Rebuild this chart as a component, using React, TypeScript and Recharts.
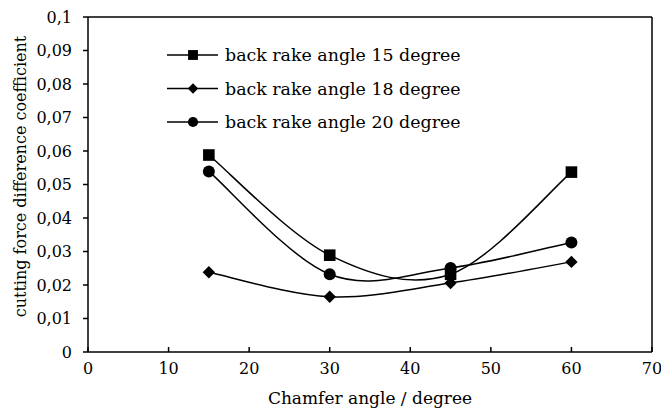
import { CartesianGrid, Legend, Line, LineChart, ReferenceLine, XAxis, YAxis } from "recharts";

const chamferAngles = [15, 30, 45, 60];
const rake15 = [0.0588, 0.0289, 0.0232, 0.0537];
const rake18 = [0.0238, 0.0165, 0.0206, 0.0269];
const rake20 = [0.0539, 0.0232, 0.0251, 0.0327];
const xTicks = [0, 10, 20, 30, 40, 50, 60, 70];
const yTicks = [0, 0.01, 0.02, 0.03, 0.04, 0.05, 0.06, 0.07, 0.08, 0.09, 0.1];
const seriesNames = ["back rake angle 15 degree", "back rake angle 18 degree", "back rake angle 20 degree"];

const data = chamferAngles.map((a, i) => ({ angle: a, r15: rake15[i], r18: rake18[i], r20: rake20[i] }));

const FONT = "'DejaVu Serif', serif";

// excel-style smoothed line (catmull-rom as cubic bezier)
function excelSmooth(context: any) {
  let pts: [number, number][] = [];
  return {
    areaStart() {},
    areaEnd() {},
    lineStart() {
      pts = [];
    },
    point(x: number, y: number) {
      pts.push([+x, +y]);
    },
    lineEnd() {
      if (!pts.length) return;
      context.moveTo(pts[0][0], pts[0][1]);
      for (let i = 0; i < pts.length - 1; i++) {
        const p0 = pts[i - 1] ?? pts[i];
        const p1 = pts[i];
        const p2 = pts[i + 1];
        const p3 = pts[i + 2] ?? p2;
        context.bezierCurveTo(
          p1[0] + (p2[0] - p0[0]) / 6,
          p1[1] + (p2[1] - p0[1]) / 6,
          p2[0] - (p3[0] - p1[0]) / 6,
          p2[1] - (p3[1] - p1[1]) / 6,
          p2[0],
          p2[1]
        );
      }
    },
  };
}

function Marker({ kind, cx, cy, s = 1 }: { kind: string; cx: number; cy: number; s?: number }) {
  if (kind === "square") {
    const h = 5.8 * s;
    return <rect x={cx - h} y={cy - h} width={2 * h} height={2 * h} fill="#000" />;
  }
  if (kind === "diamond") {
    const h = 6.2 * s;
    return <polygon points={`${cx},${cy - h} ${cx + h},${cy} ${cx},${cy + h} ${cx - h},${cy}`} fill="#000" />;
  }
  return <circle cx={cx} cy={cy} r={6 * s} fill="#000" />;
}

const kinds = ["square", "diamond", "circle"];

const dot = (kind: string) => (p: any) =>
  p.cx == null ? <g key={p.key} /> : <Marker key={p.key} kind={kind} cx={p.cx} cy={p.cy} />;

function LegendBox() {
  return (
    <svg width={330} height={100}>
      {seriesNames.map((name, i) => {
        const y = 15 + i * 33.5;
        return (
          <g key={name}>
            <line x1={7} x2={58} y1={y} y2={y} stroke="#000" strokeWidth={1.6} />
            <Marker kind={kinds[i]} cx={33} cy={y} s={0.85} />
            <text x={65} y={y} dy="0.35em" fontFamily={FONT} fontSize={17.4} fill="#000">
              {name}
            </text>
          </g>
        );
      })}
    </svg>
  );
}

const fmt = (v: number) => String(v).replace(".", ",");

export default function App() {
  return (
    <div style={{ position: "absolute", left: 0, top: 0, background: "#fff" }}>
      <LineChart width={661} height={412} data={data} margin={{ top: 17, right: 9, bottom: 0, left: 0 }}>
        <CartesianGrid horizontal={false} vertical={false} />
        <XAxis
          dataKey="angle"
          type="number"
          domain={[0, 70]}
          ticks={xTicks}
          height={60}
          stroke="#000"
          strokeWidth={1.5}
          tickSize={-5}
          tickMargin={16}
          tick={{ fill: "#000", fontSize: 16, fontFamily: FONT }}
          label={{ value: "Chamfer angle / degree", position: "insideBottom", offset: 8, fill: "#000", fontSize: 17, fontFamily: FONT }}
        />
        <YAxis
          type="number"
          domain={[0, 0.1]}
          ticks={yTicks}
          width={88}
          stroke="#000"
          strokeWidth={1.5}
          tickSize={5}
          tickMargin={11}
          tickFormatter={fmt}
          tick={{ fill: "#000", fontSize: 16, fontFamily: FONT }}
          label={{ value: "cutting force difference coefficient", angle: -90, position: "insideLeft", offset: 20, dy: -8, style: { textAnchor: "middle" }, fill: "#000", fontSize: 16, fontFamily: FONT }}
        />
        <ReferenceLine y={0.1} stroke="#000" strokeWidth={1.5} />
        <ReferenceLine x={70} stroke="#000" strokeWidth={1.5} />
        <Legend
          layout="vertical"
          align="center"
          verticalAlign="middle"
          content={() => <LegendBox />}
          wrapperStyle={{ left: 160, top: 40, width: 330 }}
        />
        <Line type={excelSmooth as any} dataKey="r15" stroke="#000" strokeWidth={1.5} dot={dot("square")} isAnimationActive={false} />
        <Line type={excelSmooth as any} dataKey="r18" stroke="#000" strokeWidth={1.5} dot={dot("diamond")} isAnimationActive={false} />
        <Line type={excelSmooth as any} dataKey="r20" stroke="#000" strokeWidth={1.5} dot={dot("circle")} isAnimationActive={false} />
      </LineChart>
    </div>
  );
}
